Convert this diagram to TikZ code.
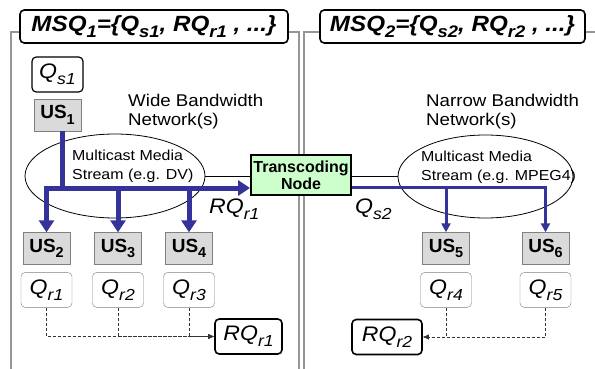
\documentclass[tikz,border=0pt]{standalone}
\usepackage{fontspec}
\setmainfont{Liberation Sans}
\newfontfamily\wideFont[FakeStretch=1.1]{Liberation Sans}
\usepackage{graphicx}
\usepackage{tikz}
\usetikzlibrary{positioning,shapes.geometric,arrows.meta}
\tikzstyle{diagram} = [x = 1pt, y = -1pt]
\definecolor{panelGray}{RGB}{150,150,150}
\definecolor{streamBlue}{RGB}{51,51,153}
\definecolor{tcGreen}{RGB}{204,255,204}
\definecolor{usFill}{RGB}{218,218,218}
\tikzstyle{panelLine} = [color=panelGray, line width=2pt]
\tikzstyle{titleBox} = [draw, fill=white, line width=1.6pt, rounded corners=.15cm, minimum height=33pt, inner sep=0pt, font=\wideFont\fontsize{22}{22}\selectfont\bfseries\itshape]
\tikzstyle{usStyle} = [draw=gray, fill=usFill, minimum width=47pt, minimum height=32pt, inner sep=0pt, font=\fontsize{19}{19}\selectfont\bfseries]
\tikzstyle{qBox} = [draw=gray, fill=white, rounded corners=.15cm, minimum width=51pt, minimum height=35pt, inner sep=0pt, font=\wideFont\fontsize{21}{21}\selectfont\itshape]
\tikzstyle{qsBox} = [qBox, draw=black, line width=1.2pt]
\tikzstyle{rqBox} = [qBox, draw=black, line width=1.6pt, minimum width=67pt]
\tikzstyle{netText} = [anchor=north west, align=left, inner sep=0pt, font=\wideFont\fontsize{17}{19}\selectfont]
\tikzstyle{streamText} = [anchor=north west, align=left, inner sep=0pt, font=\wideFont\fontsize{14.5}{19}\selectfont]
\tikzstyle{netCloud} = [draw, ellipse, line width=.8pt, inner sep=0pt]
\tikzstyle{tcStyle} = [draw, fill=tcGreen, line width=2pt, minimum width=100pt, minimum height=40pt, inner sep=0pt, align=center, font=\fontsize{16}{17}\selectfont\bfseries]
\tikzstyle{flowLabel} = [anchor=west, inner sep=0pt, font=\wideFont\fontsize{21}{21}\selectfont\itshape]
\tikzstyle{wideStream} = [color=streamBlue, line width=5pt]
\tikzstyle{narrowStream} = [color=streamBlue, line width=3pt]
\tikzstyle{linkLine} = [line width=.8pt]
\tikzstyle{dashLink} = [color=black!80, dash pattern=on 3pt off 2pt, line width=.7pt, -{Latex[length=6pt,width=5pt]}]
\newcommand{\lowSub}[1]{\raisebox{-.28em}{\scalebox{.76}{#1}}}
\newcommand{\usNode}[3]{\node [usStyle] (#1) at (#2) {US\lowSub{#3}};}
\newcommand{\qNode}[3]{\node [qBox, below=7.5pt of #1] (#2) {Q\lowSub{#3}};}

\begin{document}
\begin{tikzpicture}[diagram]
  \useasboundingbox (0,0) rectangle (595,369);
  % panels
  \draw [panelLine] (20,32) -- (11,32) -- (11,372);
  \draw [panelLine] (288,32) -- (299,32) -- (299,372);
  \draw [panelLine] (320,32) -- (304,32) -- (304,372);
  \draw [panelLine] (585,32) -- (600,32);
  \node [titleBox, minimum width=268pt] (titleA) at (154,26.5) {MSQ\lowSub{1}=\{Q\lowSub{s1}, RQ\lowSub{r1} , ...\}};
  \node [titleBox, minimum width=265pt] (titleB) at (452.5,26.5) {MSQ\lowSub{2}=\{Q\lowSub{s2}, RQ\lowSub{r2} , ...\}};
  % sender side
  \node [qsBox] (qsA) at (57.5,74.5) {Q\lowSub{s1}};
  \node [usStyle, below=6pt of qsA] (usA) {US\lowSub{1}};
  \node [netText] (netA) at (128,94) {Wide Bandwidth\\Network(s)};
  \node [netText] (netB) at (426,94) {Narrow Bandwidth\\Network(s)};
  \node [netCloud, minimum width=180pt, minimum height=84pt] (ellA) at (115,176) {};
  \node [netCloud, minimum width=175pt, minimum height=83pt] (ellB) at (485.5,176.5) {};
  \node [streamText] (streamA) at (72,150) {Multicast Media\\Stream (e.g. DV)};
  \node [streamText] (streamB) at (421,151) {Multicast Media\\Stream (e.g. MPEG4)};
  \node [tcStyle] (tc) at (301,175) {Transcoding\\Node};
  % receivers
  \usNode{usB}{46.5,248.5}{2}
  \usNode{usC}{118,248.5}{3}
  \usNode{usD}{189,248.5}{4}
  \usNode{usE}{446,248.5}{5}
  \usNode{usF}{545.5,248.5}{6}
  \qNode{usB}{qrA}{r1}
  \qNode{usC}{qrB}{r2}
  \qNode{usD}{qrC}{r3}
  \qNode{usE}{qrD}{r4}
  \qNode{usF}{qrE}{r5}
  \node [rqBox] (rqA) at (248.5,336.5) {RQ\lowSub{r1}};
  \node [rqBox, minimum width=70pt] (rqB) at (387,337) {RQ\lowSub{r2}};
  \node [flowLabel] (lblA) at (209,209) {RQ\lowSub{r1}};
  \node [flowLabel] (lblB) at (355,209) {Q\lowSub{s2}};
  % links
  \draw [linkLine] (ellA.east) -- (ellA.east -| tc.west);
  \draw [linkLine] (ellB.west -| tc.east) -- (ellB.west);
  \coordinate (busA) at (0,188);
  \coordinate (busB) at (0,187);
  \draw [wideStream] ([xshift=5pt]usA.south) -- ([xshift=5pt]usA.south |- busA);
  \draw [wideStream, {Triangle[width=15pt,length=12pt]}-{Triangle[width=15pt,length=12pt]}] (usB.north) -- (usB.north |- busA) -- (tc.west |- busA);
  \foreach \u in {usC,usD}
    \draw [wideStream, -{Triangle[width=15pt,length=12pt]}] (\u.north |- busA) -- (\u.north);
  \draw [narrowStream, -{Triangle[width=9pt,length=9pt]}] (tc.east |- busB) -| (usF.north);
  \draw [narrowStream, -{Triangle[width=9pt,length=9pt]}] (usE.north |- busB) -- (usE.north);
  \foreach \q in {qrA,qrB,qrC}
    \draw [dashLink] (\q.south) |- (rqA.west);
  \foreach \q in {qrD,qrE}
    \draw [dashLink] (\q.south) |- (rqB.east);
\end{tikzpicture}
\end{document}
